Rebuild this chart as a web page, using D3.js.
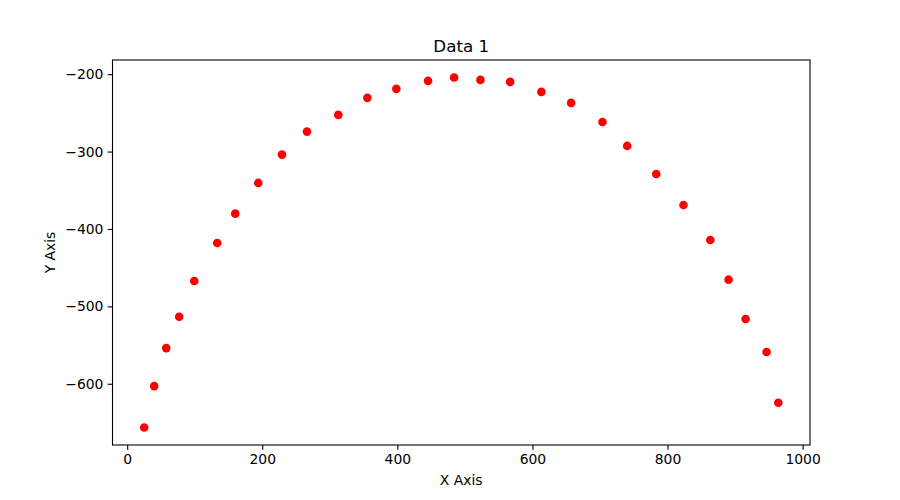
<!DOCTYPE html>
<html>
<head>
<meta charset="utf-8">
<script src="https://cdn.jsdelivr.net/npm/d3@7/dist/d3.min.js"></script>
<style>
  html, body { margin: 0; padding: 0; background: #fff; }
  svg { display: block; font-family: "DejaVu Sans", sans-serif; }
</style>
</head>
<body>
<svg id="chart" width="900" height="500"></svg>
<script>
const titleText = "Data 1";
const xLabel = "X Axis";
const yLabel = "Y Axis";
const xValues = [25.2, 40.0, 57.8, 77.0, 99.3, 133.3, 160.0, 194.1, 229.2, 266.2, 312.6, 355.6, 398.5, 445.5, 484.0, 523.0, 567.0, 613.2, 657.3, 703.7, 740.3, 783.3, 823.6, 863.3, 890.4, 915.6, 946.7, 964.0];
const yValues = [-656.5, -603.0, -553.9, -513.4, -467.2, -418.1, -380.2, -340.5, -303.9, -274.2, -252.6, -230.6, -219.0, -208.7, -204.3, -207.4, -210.0, -222.9, -237.1, -261.7, -292.7, -328.9, -369.0, -414.2, -465.5, -516.4, -559.0, -624.6];
const xTicks = [0, 200, 400, 600, 800, 1000];
const yTicks = [-600, -500, -400, -300, -200];

const plotL = 112.5, plotR = 810, plotT = 60, plotB = 445;
const svg = d3.select("#chart");

function padded(vals) {
  const [a, b] = d3.extent(vals);
  const m = (b - a) * 0.05;
  return [a - m, b + m];
}
const x = d3.scaleLinear().domain(padded(xValues)).range([plotL, plotR]);
const y = d3.scaleLinear().domain(padded(yValues)).range([plotB, plotT]);

const fmt = v => String(v).replace("-", "\u2212");

// points
svg.append("g").selectAll("circle")
  .data(xValues.map((v, i) => [v, yValues[i]]))
  .join("circle")
  .attr("cx", d => x(d[0]))
  .attr("cy", d => y(d[1]))
  .attr("r", 4.3)
  .attr("fill", "#ff0000");

// axes
const xAxis = d3.axisBottom(x).tickValues(xTicks).tickFormat(fmt).tickSize(4.86).tickPadding(4.2);
const yAxis = d3.axisLeft(y).tickValues(yTicks).tickFormat(fmt).tickSize(4.86).tickPadding(4.2);

const gx = svg.append("g").attr("transform", `translate(0,${plotB})`).call(xAxis);
const gy = svg.append("g").attr("transform", `translate(${plotL},0)`).call(yAxis);
[gx, gy].forEach(g => {
  g.select(".domain").remove();
  g.selectAll(".tick line").attr("stroke", "#000").attr("stroke-width", 1.1);
  g.selectAll(".tick text").attr("fill", "#000").style("font-size", "13.9px").style("font-family", "DejaVu Sans");
});

// frame
svg.append("rect")
  .attr("x", plotL).attr("y", plotT)
  .attr("width", plotR - plotL).attr("height", plotB - plotT)
  .attr("fill", "none").attr("stroke", "#000").attr("stroke-width", 1.1);

// title and labels
svg.append("text").attr("x", (plotL + plotR) / 2).attr("y", 51.7)
  .attr("text-anchor", "middle").style("font-size", "16.7px").text(titleText);
svg.append("text").attr("x", (plotL + plotR) / 2).attr("y", 485)
  .attr("text-anchor", "middle").style("font-size", "13.9px").text(xLabel);
svg.append("text").attr("transform", `translate(55,${(plotT + plotB) / 2}) rotate(-90)`)
  .attr("text-anchor", "middle").style("font-size", "13.9px").text(yLabel);
</script>
</body>
</html>
